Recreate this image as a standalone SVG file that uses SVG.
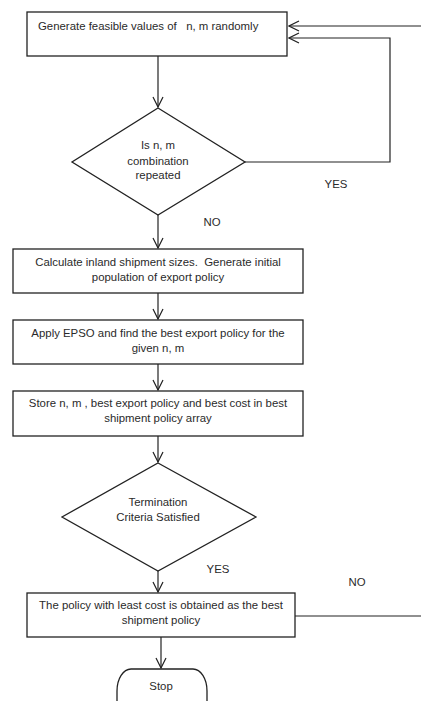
<svg xmlns="http://www.w3.org/2000/svg" width="421" height="701" viewBox="0 0 421 701">
  <style>
    .box { fill: #fff; stroke: #222; stroke-width: 1.3; }
    .ln { fill: none; stroke: #222; stroke-width: 1.2; }
    text { font-family: "Liberation Sans", Arial, sans-serif; font-size: 11.4px; fill: #2a2a2a; white-space: pre; }
    .c { text-anchor: middle; }
  </style>
  <defs>
    <marker id="arr" viewBox="0 0 12 12" refX="11" refY="6" markerWidth="12" markerHeight="12" markerUnits="userSpaceOnUse" orient="auto">
      <path d="M1,1 L11,6 L1,11" fill="none" stroke="#222" stroke-width="1.2"/>
    </marker>
  </defs>
  <rect width="421" height="701" fill="#fff"/>

  <g id="connectors">
    <line class="ln" x1="158" y1="56" x2="158" y2="107" marker-end="url(#arr)"/>
    <polyline class="ln" points="245,162 390,162 390,38 289,38" marker-end="url(#arr)"/>
    <line class="ln" x1="158" y1="215" x2="158" y2="248" marker-end="url(#arr)"/>
    <line class="ln" x1="158" y1="293" x2="158" y2="319" marker-end="url(#arr)"/>
    <line class="ln" x1="158" y1="364" x2="158" y2="390" marker-end="url(#arr)"/>
    <line class="ln" x1="158" y1="436" x2="158" y2="462" marker-end="url(#arr)"/>
    <line class="ln" x1="158" y1="571" x2="158" y2="592" marker-end="url(#arr)"/>
    <line class="ln" x1="161" y1="637" x2="161" y2="668" marker-end="url(#arr)"/>
    <line class="ln" x1="295" y1="616" x2="421" y2="616"/>
    <line class="ln" x1="421" y1="26" x2="289" y2="26" marker-end="url(#arr)"/>
    <text x="336" y="188" class="c">YES</text>
    <text x="212" y="226" class="c">NO</text>
    <text x="218" y="573" class="c">YES</text>
    <text x="357" y="586" class="c">NO</text>
  </g>

  <g id="generate">
    <rect class="box" x="27" y="12" width="260" height="44"/>
    <text x="38" y="30" xml:space="preserve">Generate feasible values of   n, m randomly</text>
  </g>

  <g id="repeated">
    <polygon class="box" points="158,108 245,162 158,215 72,162"/>
    <text x="158" y="149" class="c">Is n, m</text>
    <text x="158" y="165" class="c">combination</text>
    <text x="158" y="179" class="c">repeated</text>
  </g>

  <g id="calculate">
    <rect class="box" x="13" y="249" width="290" height="44"/>
    <text x="158" y="266" class="c" xml:space="preserve">Calculate inland shipment sizes.  Generate initial</text>
    <text x="158" y="281" class="c">population of export policy</text>
  </g>

  <g id="epso">
    <rect class="box" x="13" y="320" width="290" height="44"/>
    <text x="158" y="337" class="c">Apply EPSO and find the best export policy for the</text>
    <text x="158" y="352" class="c">given n, m</text>
  </g>

  <g id="store">
    <rect class="box" x="13" y="391" width="290" height="45"/>
    <text x="158" y="407" class="c">Store n, m , best export policy and best cost in best</text>
    <text x="158" y="422" class="c">shipment policy array</text>
  </g>

  <g id="termination">
    <polygon class="box" points="158,463 256,517 158,571 62,517"/>
    <text x="158" y="506" class="c">Termination</text>
    <text x="158" y="521" class="c">Criteria Satisfied</text>
  </g>

  <g id="result">
    <rect class="box" x="27" y="593" width="268" height="44"/>
    <text x="161" y="609" class="c">The policy with least cost is obtained as the best</text>
    <text x="161" y="624" class="c">shipment policy</text>
  </g>

  <g id="stop">
    <path class="box" d="M131,669 H193 A14,22 0 0 1 207,691 V705 H117 V691 A14,22 0 0 1 131,669 Z"/>
    <text x="161" y="690" class="c">Stop</text>
  </g>
</svg>
